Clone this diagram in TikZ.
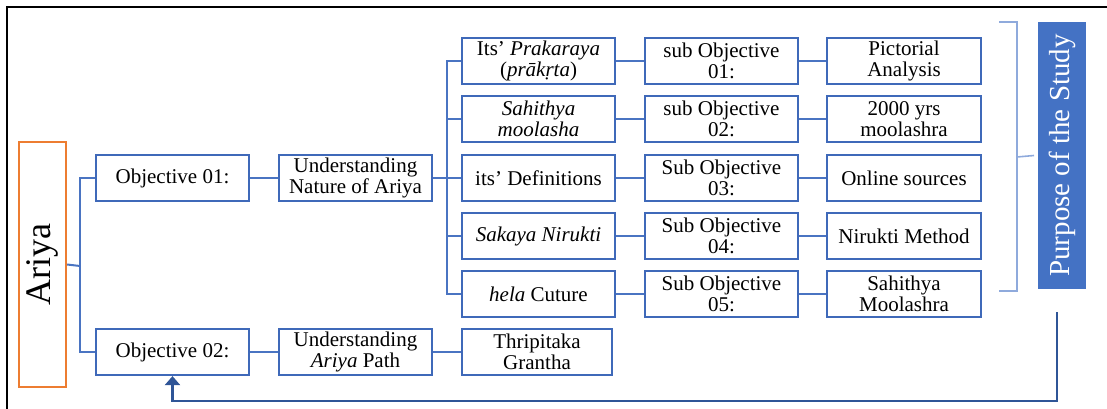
\documentclass[tikz,border=0pt]{standalone}
\usepackage{fontspec}
\setmainfont{Liberation Serif}
\usepackage{xcolor}
\usepackage{tikz}
\usetikzlibrary{positioning, arrows.meta}
\definecolor{bBox}{HTML}{3F69B9}
\definecolor{bLine}{HTML}{4A74C2}
\definecolor{bLight}{HTML}{8FAADC}
\definecolor{bFill}{HTML}{4472C4}
\definecolor{bBack}{HTML}{2F5597}
\definecolor{oRange}{HTML}{ED7D31}
\tikzset{
  obox/.style={draw=bBox, line width=2.2pt, fill=white, minimum width=153pt, minimum height=46pt,
    inner sep=1pt, align=center, font=\fontsize{21}{21}\selectfont},
  link/.style={draw=bLine, line width=2pt},
  brk/.style={draw=bLight, line width=1.6pt},
}
\begin{document}
\begin{tikzpicture}[x=1pt, y=-1pt, >=Stealth]
  \useasboundingbox (0,0) rectangle (1107,409);
  \draw[black, line width=2.5pt] (7,409) -- (7,7) -- (1107,7);
  % root
  \node[draw=oRange, line width=2.2pt, minimum width=47pt, minimum height=245pt, inner sep=0pt]
    (ariya) at (42.5,264.5) {\rotatebox{90}{\fontsize{36}{36}\selectfont Ariya}};
  \node[obox] (obj1) at (172.5,178) {Objective 01:};
  \node[obox] (obj2) at (172.5,352) {Objective 02:};
  \node[obox] (nat) at (355.5,178) {Understanding\\Nature of Ariya};
  \node[obox] (path) at (355.5,352) {Understanding\\\textit{Ariya} Path};
  \node[obox, minimum width=150pt] (thri) at (537,352) {Thripitaka\\Grantha};
  % three columns
  \foreach \i/\y/\a/\b/\c in {
      1/61/{Its’ \textit{Prakaraya}\\(\textit{prākṛta})}/{sub Objective\\01:}/{Pictorial\\Analysis},
      2/119/{\textit{Sahithya}\\\textit{moolasha}}/{sub Objective\\02:}/{2000 yrs\\moolashra},
      3/178/{its’ Definitions}/{Sub Objective\\03:}/{Online sources},
      4/236/{\textit{Sakaya Nirukti}}/{Sub Objective\\04:}/{Nirukti Method},
      5/294/{\textit{hela} Cuture}/{Sub Objective\\05:}/{Sahithya\\Moolashra}} {
    \node[obox] (its\i) at (538.5,\y) {\a};
    \node[obox] (sub\i) at (721.5,\y) {\b};
    \node[obox, minimum width=154pt] (res\i) at (904,\y) {\c};
  }
  \node[fill=bFill, minimum width=48pt, minimum height=267pt, inner sep=0pt, text=white]
    (purpose) at (1062,155.5) {\rotatebox{90}{\fontsize{29}{29}\selectfont Purpose of the Study}};
  % connectors
  \coordinate (ja) at (80,266);
  \coordinate (jb) at (447,178);
  \draw[link] (ariya.east) -- (ja);
  \draw[link] (obj1.west) -| (ja);
  \draw[link] (obj2.west) -| (ja);
  \draw[link] (obj1) -- (nat);
  \draw[link] (obj2) -- (path);
  \draw[link] (path) -- (thri);
  \draw[link] (nat) -- (jb);
  \foreach \i in {1,...,5} {
    \draw[link] (its\i.west) -| (jb);
    \draw[link] (its\i) -- (sub\i);
    \draw[link] (sub\i) -- (res\i);
  }
  % bracket
  \draw[brk] (999,22) -- (1017,22) -- (1017,291) -- (999,291);
  \draw[brk] (1017,157) -- (purpose.west -| 1034,0);
  % back to objective 02
  \coordinate (fb) at (1057,312);
  \draw[draw=bBack, line width=2.2pt, -{Triangle[width=15pt, length=9pt]}]
    (fb) -- ++(0,89) -| (obj2.south);
\end{tikzpicture}
\end{document}
